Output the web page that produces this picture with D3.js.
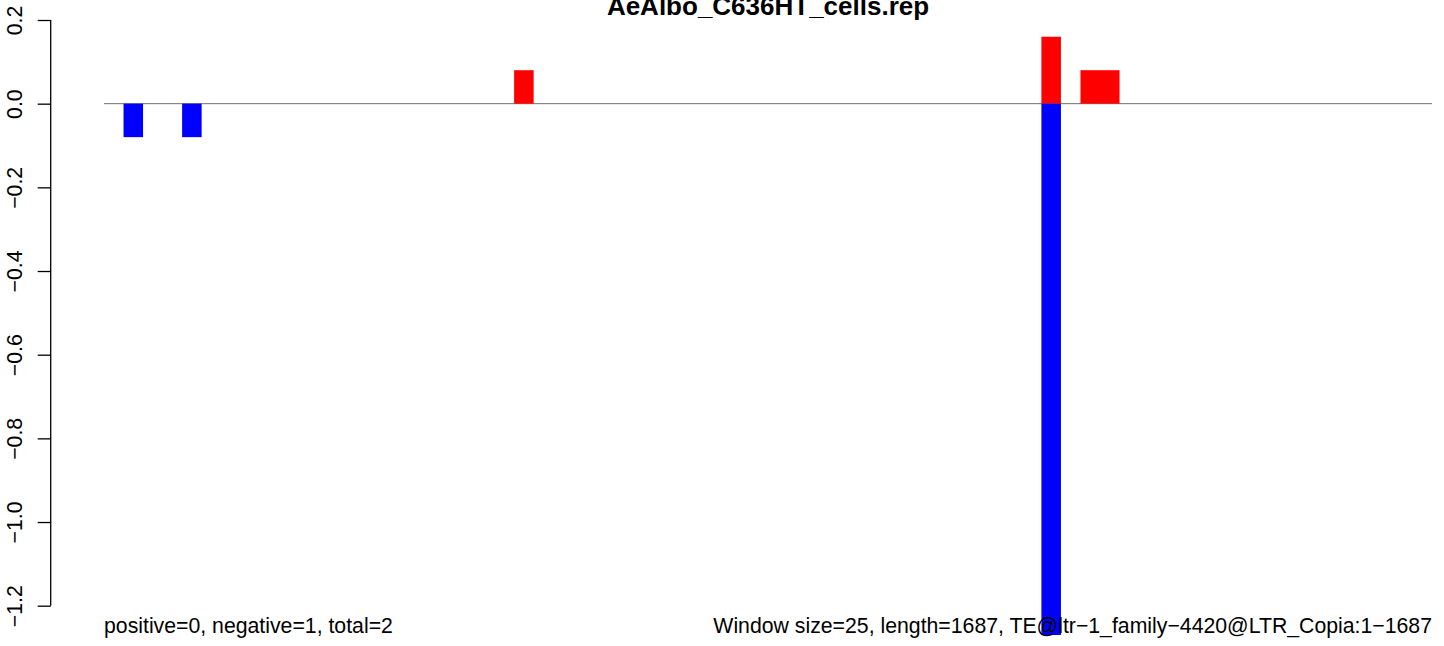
<!DOCTYPE html>
<html>
<head>
<meta charset="utf-8">
<script src="https://cdn.jsdelivr.net/npm/d3@7"></script>
<style>
  html, body { margin: 0; padding: 0; background: #fff; }
  svg { display: block; font-family: "Liberation Sans", Arial, Helvetica, sans-serif; }
</style>
</head>
<body>
<svg id="chart" width="1444" height="646"></svg>
<script>
// ---- data ----
const title = "AeAlbo_C636HT_cells.rep";
const windowSize = 25;
const seqLength = 1687;
const nWindows = 68;
const posWindows = [21, 48, 50, 51];
const posValues = [0.08, 0.16, 0.08, 0.08];
const negWindows = [1, 4, 48];
const negValues = [-0.08, -0.08, -1.27];
const yTicks = [0.2, 0.0, -0.2, -0.4, -0.6, -0.8, -1.0, -1.2];
const leftNote = "positive=0, negative=1, total=2";
const rightNote = "Window size=25, length=1687, TE@ltr\u22121_family\u22124420@LTR_Copia:1\u22121687";

// ---- layout ----
const svg = d3.select("#chart");
const x = d3.scaleLinear().domain([0, nWindows * windowSize]).range([104, 1432]);
const y = d3.scaleLinear().domain([0.2, -1.2]).range([20, 605.7]);

const fmt = v => {
  const s = d3.format(".1f")(Math.abs(v) < 1e-9 ? 0 : v);
  return s.replace("-", "\u2212");
};

// zero line
svg.append("line")
  .attr("x1", x(0)).attr("x2", x(nWindows * windowSize))
  .attr("y1", y(0)).attr("y2", y(0))
  .attr("stroke", "#707070").attr("stroke-width", 1);

// bars
const pos = posWindows.map((w, i) => ({ w, v: posValues[i] }));
const neg = negWindows.map((w, i) => ({ w, v: negValues[i] }));

svg.append("g").selectAll("rect").data(pos).join("rect")
  .attr("x", d => x(d.w * windowSize))
  .attr("width", d => x((d.w + 1) * windowSize) - x(d.w * windowSize))
  .attr("y", d => y(d.v))
  .attr("height", d => y(0) - y(d.v))
  .attr("fill", "#ff0000");

svg.append("g").selectAll("rect").data(neg).join("rect")
  .attr("x", d => x(d.w * windowSize))
  .attr("width", d => x((d.w + 1) * windowSize) - x(d.w * windowSize))
  .attr("y", y(0))
  .attr("height", d => y(d.v) - y(0))
  .attr("fill", "#0000ff");

// y axis
const axis = d3.axisLeft(y).tickValues(yTicks).tickSize(13).tickFormat(fmt);
const ag = svg.append("g").attr("transform", "translate(50.7,0)").call(axis);
ag.select(".domain").attr("d", `M-0,${y(0.2)}V${y(-1.2)}`).attr("stroke", "#000").attr("stroke-width", 1.3);
ag.selectAll(".tick line").attr("stroke", "#000").attr("stroke-width", 1.3);
ag.selectAll(".tick text")
  .attr("font-size", 21.25)
  .attr("fill", "#000")
  .attr("x", null).attr("dy", null)
  .attr("text-anchor", "middle")
  .attr("transform", "translate(-29,0) rotate(-90)");

// title
svg.append("text")
  .attr("x", (x(0) + x(nWindows * windowSize)) / 2)
  .attr("y", 15)
  .attr("text-anchor", "middle")
  .attr("font-size", 26)
  .attr("font-weight", "bold")
  .text(title);

// bottom notes
svg.append("text")
  .attr("x", x(0)).attr("y", 633)
  .attr("font-size", 21.25)
  .text(leftNote);

svg.append("text")
  .attr("x", x(nWindows * windowSize)).attr("y", 633)
  .attr("text-anchor", "end")
  .attr("font-size", 21.25)
  .text(rightNote);
</script>
</body>
</html>
